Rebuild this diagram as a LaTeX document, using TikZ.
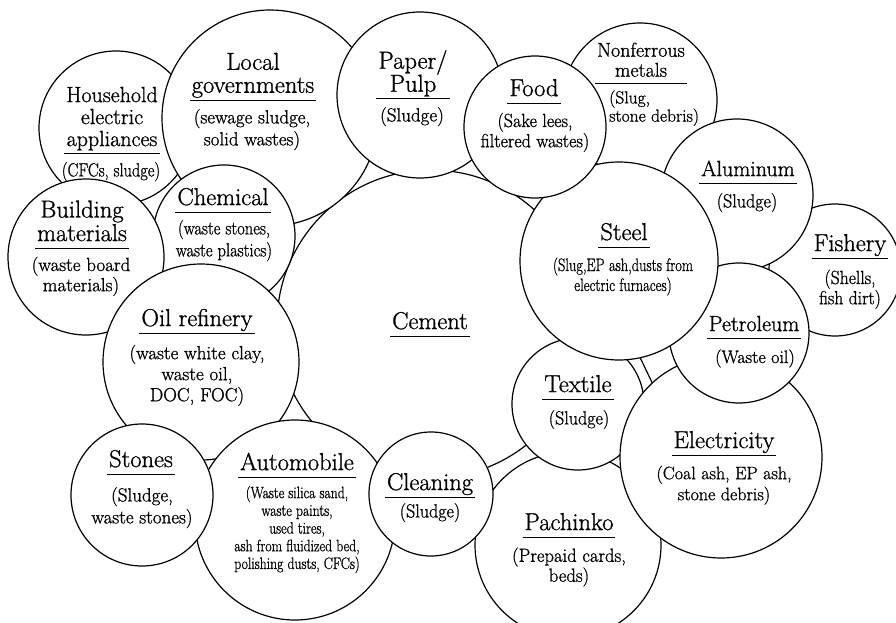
\documentclass[tikz,border=0pt]{standalone}
\usepackage{fontspec}
\setmainfont{Latin Modern Roman}[FakeBold=1]
\usepackage{graphicx}
\usepackage{array}
\setlength{\arrayrulewidth}{1.1pt}
% underlined title block: the rule spans the widest line
\newcommand{\ttlblock}[1]{\begin{tabular}{@{\hspace{2pt}}c@{\hspace{2pt}}}#1\\\hline\end{tabular}}
% explanatory text, optionally condensed horizontally
\newcommand{\subtext}[2]{\scalebox{#1}[1]{\begin{tabular}{@{}c@{}}#2\end{tabular}}}
\begin{document}
\begin{tikzpicture}[x=1pt,y=-1pt,
  bub/.style={circle, draw, fill=white, line width=1.2pt, inner sep=0pt, minimum size=#1},
  ttl/.style={inner sep=0pt, anchor=south, font=\fontsize{24.5}{22}\selectfont},
  sub/.style={inner sep=0pt, font=\fontsize{19}{22}\selectfont},
  link/.style={line width=1.2pt}]
\fill[white] (0,0) rectangle (896,623);
\useasboundingbox (0,0) rectangle (896,623);
\clip (0,0) rectangle (896,623);

% central circle
\node[bub=308pt] (ce) at (431,324) {};

% surrounding industries, back to front
\node[bub=154pt] (hh) at (116,128) {};
\node[bub=216pt] (lg) at (270,118) {};
\node[bub=142pt] (ch) at (224,236) {};
\node[bub=156pt] (bm) at (86,257) {};
\node[bub=196pt] (oil) at (201,362) {};
\node[bub=200pt] (au) at (295,520) {};
\node[bub=142pt] (sn) at (142,495) {};
\node[bub=186pt] (pa) at (568,545) {};
\node[bub=124pt] (cl) at (431,494) {};
\node[bub=166pt] (pp) at (420,95) {};
\node[bub=154pt] (nm) at (640,100) {};
\node[bub=132pt] (fi) at (835,270) {};
\node[bub=152pt] (al) at (737,195) {};
\node[bub=132pt] (tx) at (578,404) {};
% short link between steel and electricity
\coordinate (brA) at (636,349);
\coordinate (brB) at (658,395);
\draw[link] (brA) -- (brB);
\node[bub=202pt] (el) at (721,457) {};
\node[bub=140pt] (pe) at (739,333) {};
\node[bub=198pt] (st) at (619,261) {};
\node[bub=142pt] (fd) at (535,127) {};

% labels
\node[ttl] (ceT) at (430,337) {\ttlblock{Cement}};

\node[ttl, font=\fontsize{22}{22}\selectfont] (hhT) at (112,154) {\ttlblock{Household\\electric\\appliances}};
\node[sub] (hhS) at (111,172) {\subtext{.86}{(CFCs, sludge)}};

\node[ttl, font=\fontsize{24.5}{23}\selectfont] (lgT) at (253,101) {\ttlblock{Local\\governments}};
\node[sub] (lgS) at (252,130) {\subtext{1}{(sewage sludge,\\solid wastes)}};

\node[ttl, font=\fontsize{24.5}{20}\selectfont] (ppT) at (413,99) {\ttlblock{Paper/\\Pulp}};
\node[sub] (ppS) at (412,117) {\subtext{1}{(Sludge)}};

\node[ttl] (fdT) at (534,104) {\ttlblock{Food}};
\node[sub, font=\fontsize{19}{20}\selectfont] (fdS) at (535,133) {\subtext{.95}{(Sake lees,\\filtered wastes)}};

\node[ttl, font=\fontsize{20}{20}\selectfont] (nmT) at (641,84) {\ttlblock{Nonferrous\\metals}};
\node[sub, anchor=west, font=\fontsize{17.5}{17}\selectfont] (nmS) at (609,108.5) {\begin{tabular}{@{}l@{}}(Slug,\\stone debris)\end{tabular}};

\node[ttl, font=\fontsize{22}{22}\selectfont] (alT) at (748,184) {\ttlblock{Aluminum}};
\node[sub] (alS) at (747,203) {\subtext{.95}{(Sludge)}};

\node[ttl] (stT) at (624,248) {\ttlblock{Steel}};
\node[sub, font=\fontsize{18}{20}\selectfont] (stS) at (623,277) {\subtext{.8}{(Slug,EP ash,dusts from\\electric furnaces)}};

\node[ttl] (fiT) at (850,259) {\ttlblock{Fishery}};
\node[sub, font=\fontsize{19}{20}\selectfont] (fiS) at (850,290) {\subtext{.93}{(Shells,\\fish dirt)}};

\node[ttl, font=\fontsize{22}{22}\selectfont] (peT) at (754,339) {\ttlblock{Petroleum}};
\node[sub, font=\fontsize{18}{20}\selectfont] (peS) at (755,359) {\subtext{1}{(Waste oil)}};

\node[ttl] (elT) at (724,456) {\ttlblock{Electricity}};
\node[sub, font=\fontsize{18}{21}\selectfont] (elS) at (724,485.5) {\subtext{1}{(Coal ash, EP ash,\\stone debris)}};

\node[ttl] (txT) at (578,400) {\ttlblock{Textile}};
\node[sub] (txS) at (579,420) {\subtext{.95}{(Sludge)}};

\node[ttl] (paT) at (569,538) {\ttlblock{Pachinko}};
\node[sub, font=\fontsize{19}{19}\selectfont] (paS) at (569,567.5) {\subtext{.98}{(Prepaid cards,\\beds)}};

\node[ttl] (clT) at (430,498) {\ttlblock{Cleaning}};
\node[sub] (clS) at (430,513) {\subtext{.95}{(Sludge)}};

\node[ttl] (auT) at (297,478) {\ttlblock{Automobile}};
\node[sub, font=\fontsize{16.5}{17.7}\selectfont] (auS) at (297,530) {\subtext{.83}{(Waste silica sand,\\waste paints,\\used tires,\\ash from fluidized bed,\\polishing dusts, CFCs)}};

\node[ttl] (snT) at (141,475) {\ttlblock{Stones}};
\node[sub] (snS) at (142,508) {\subtext{1}{(Sludge,\\waste stones)}};

\node[ttl] (oilT) at (197,334) {\ttlblock{Oil refinery}};
\node[sub, font=\fontsize{19}{21}\selectfont] (oilS) at (197,376) {\subtext{1}{(waste white clay,\\waste oil,\\DOC, FOC)}};

\node[ttl] (bmT) at (82,249) {\ttlblock{Building\\materials}};
\node[sub, font=\fontsize{19}{20}\selectfont] (bmS) at (81,277) {\subtext{1}{(waste board\\materials)}};

\node[ttl] (chT) at (223,213) {\ttlblock{Chemical}};
\node[sub] (chS) at (224,241) {\subtext{.87}{(waste stones,\\waste plastics)}};
\end{tikzpicture}
\end{document}
